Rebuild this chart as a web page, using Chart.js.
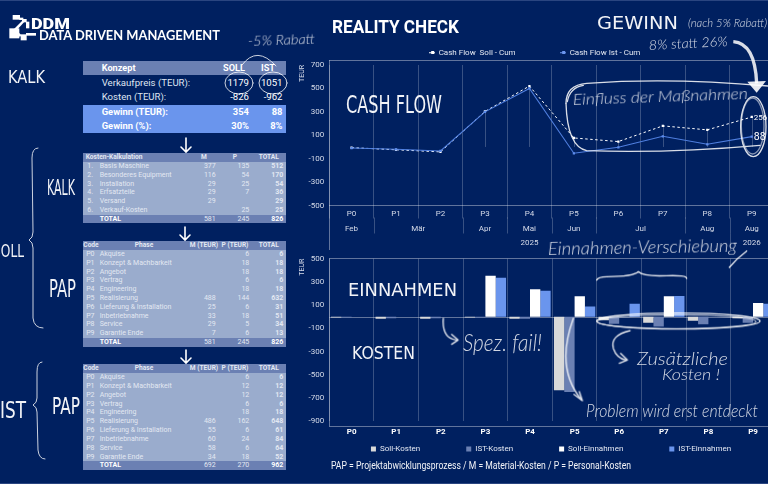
<!DOCTYPE html>
<html lang="de"><head><meta charset="utf-8">
<script src="https://cdn.jsdelivr.net/npm/chart.js@4"></script>
<style>
html,body{margin:0;padding:0;width:768px;height:484px;overflow:hidden;background:#002060;font-family:Roboto,sans-serif;}
canvas{position:absolute}
#c1wrap,#c2wrap{position:absolute}
#c1wrap{left:298px;top:40px;width:480px;height:210px}
#c2wrap{left:298px;top:240px;width:480px;height:244px}
#tables{position:absolute;left:0;top:0;width:768px;height:484px}
.r{position:absolute;left:83.3px;width:202.4px}
.c{position:absolute;white-space:nowrap;color:#e3e8f2;font-family:Roboto,sans-serif;top:0}
#ov{position:absolute;left:0;top:0;width:768px;height:484px;pointer-events:none}
#ov text{fill:#fff}
.hand{font-family:Lato,sans-serif;font-style:italic;font-weight:300}
.cap{font-family:"DejaVu Sans",sans-serif;font-weight:400}
</style></head><body>
<div id="tables"></div>
<div id="c1wrap"><canvas id="c1" width="480" height="210" style="width:480px;height:210px"></canvas></div>
<div id="c2wrap"><canvas id="c2" width="480" height="244" style="width:480px;height:244px"></canvas></div>
<svg id="ov" viewBox="0 0 768 484" xmlns="http://www.w3.org/2000/svg">
  <rect x="0" y="0" width="768" height="1" fill="#2a4580"/>
  <rect x="0" y="483" width="768" height="1" fill="#2a4580"/>
  <!-- logo, coordinates in 3x crop units -->
  <g transform="translate(0,5) scale(.33333)" fill="#fff">
    <rect x="38" y="30" width="22" height="14"/><rect x="58" y="38" width="12" height="7"/><rect x="66" y="42" width="14" height="10"/><rect x="78" y="50" width="10" height="20"/>
    <rect x="28" y="70" width="30" height="30"/><path d="M42,72 L66,48 L72,52 L50,76 Z"/>
    <rect x="62" y="88" width="18" height="18"/><rect x="78" y="84" width="30" height="8"/><path d="M55,82 L64,90 L60,96 L52,88 Z"/>
  </g>
  <g fill="#fff">
    <text x="31" y="28.5" font-family="Roboto" font-weight="900" font-size="15" textLength="39" lengthAdjust="spacingAndGlyphs">DDM</text>
    <text x="39" y="40" font-family="Lato" font-weight="700" font-size="12.5" textLength="181" lengthAdjust="spacingAndGlyphs">DATA DRIVEN MANAGEMENT</text>
    <text x="332" y="33" font-family="Roboto" font-weight="700" font-size="18.5" textLength="127" lengthAdjust="spacingAndGlyphs">REALITY CHECK</text>
    <text x="331" y="468.5" font-family="Roboto" font-size="10.5" textLength="300" lengthAdjust="spacingAndGlyphs" opacity=".95">PAP = Projektabwicklungsprozess / M = Material-Kosten / P = Personal-Kosten</text>
  </g>
  <!-- caps handwriting -->
  <g class="cap" opacity=".95">
    <text x="8" y="83" font-size="17" textLength="37" lengthAdjust="spacingAndGlyphs">KALK</text>
    <text x="47" y="195" font-size="21" textLength="28" lengthAdjust="spacingAndGlyphs">KALK</text>
    <text x="-7" y="257" font-size="17" textLength="31" lengthAdjust="spacingAndGlyphs">SOLL</text>
    <text x="49" y="297" font-size="24" textLength="27" lengthAdjust="spacingAndGlyphs">PAP</text>
    <text x="0" y="418" font-size="23" textLength="26" lengthAdjust="spacingAndGlyphs">IST</text>
    <text x="52" y="414" font-size="23" textLength="28" lengthAdjust="spacingAndGlyphs">PAP</text>
    <text x="346" y="113" font-size="24" textLength="96" lengthAdjust="spacingAndGlyphs">CASH FLOW</text>
    <text x="597" y="29" font-size="17" textLength="81" lengthAdjust="spacingAndGlyphs">GEWINN</text>
    <text x="348" y="296" font-size="17" textLength="109" lengthAdjust="spacingAndGlyphs">EINNAHMEN</text>
    <text x="352" y="359" font-size="17" textLength="63" lengthAdjust="spacingAndGlyphs">KOSTEN</text>
  </g>
  <!-- cursive handwriting -->
  <g class="hand" opacity=".82">
    <text transform="rotate(-2 248 46)" x="248" y="46" font-size="14" textLength="67" lengthAdjust="spacingAndGlyphs">-5% Rabatt</text>
    <text transform="rotate(-2 573 105)" x="573" y="105" font-size="16" textLength="175" lengthAdjust="spacingAndGlyphs">Einfluss der Maßnahmen</text>
    <text x="688" y="27" font-size="12" textLength="79" lengthAdjust="spacingAndGlyphs">(nach 5% Rabatt)</text>
    <text transform="rotate(-3 649 50)" x="649" y="50" font-size="13.5" textLength="79" lengthAdjust="spacingAndGlyphs">8% statt 26%</text>
    <text transform="rotate(-1 548 255)" x="548" y="255" font-size="18" textLength="189" lengthAdjust="spacingAndGlyphs">Einnahmen-Verschiebung</text>
    <text x="463" y="351" font-size="23" textLength="79" lengthAdjust="spacingAndGlyphs">Spez. fail!</text>
    <text x="637" y="365" font-size="18" textLength="91" lengthAdjust="spacingAndGlyphs">Zusätzliche</text>
    <text x="662" y="380" font-size="15" textLength="58" lengthAdjust="spacingAndGlyphs">Kosten !</text>
    <text x="586" y="417" font-size="17" textLength="172" lengthAdjust="spacingAndGlyphs">Problem wird erst entdeckt</text>
  </g>
  <!-- strokes, left -->
  <g fill="none" stroke="#fff" stroke-width="1" stroke-linecap="round" opacity=".8">
    <ellipse cx="239" cy="83" rx="14" ry="11"/>
    <ellipse cx="273" cy="83" rx="14" ry="11"/>
    <path d="M242,65 Q257,45 276,66"/>
    <path d="M38,148 Q32,148 32,158 L33,232 Q33,238 29,240 Q33,242 33,248 L33,318 Q34,328 43,328"/>
    <path d="M42,362 Q37,362 37,372 L37,398 Q37,403 33,405 Q37,407 37,412 L38,450 Q39,459 45,459"/>
  </g>
  <g fill="none" stroke="#fff" stroke-width="1.6" stroke-linecap="round">
    <path d="M186,138 L186,151 M181,147 L186,152 L191,147"/>
    <path d="M185,227 L185,239 M180,235 L185,240 L190,235"/>
    <path d="M186,350 L186,362 M181,358 L186,363 L191,358"/>
  </g>
  <!-- strokes, right (coordinates in 3x crop units) -->
  <g transform="translate(320,0) scale(.33333)" fill="none" stroke="#fff" stroke-width="4" stroke-linecap="round" opacity=".85">
    <path d="M738,310 Q738,255 800,250 Q1050,232 1344,258"/>
    <path d="M738,310 Q742,440 800,452 Q1050,460 1320,436"/>
    <path d="M742,305 Q750,262 790,256" />
    <ellipse cx="1300" cy="380" rx="38" ry="90"/>
    <ellipse cx="1298" cy="378" rx="34" ry="84" opacity=".6"/>
  </g>
  <g transform="translate(320,0) scale(.33333)">
    <path d="M1240,125 Q1305,130 1310,250" fill="none" stroke="#fff" stroke-width="10" opacity=".85"/>
    <path d="M1282,245 L1338,243 L1310,278 Z" fill="#fff" opacity=".9"/>
  </g>
  <g transform="translate(300,235) scale(.33333)" fill="none" stroke="#fff" stroke-width="4" stroke-linecap="round" stroke-linejoin="round" opacity=".9">
    <path d="M890,135 Q895,125 920,125 Q1000,125 1015,110 Q1030,125 1100,122 Q1160,120 1160,130"/>
    <path d="M1340,48 Q1310,70 1288,97"/>
    <ellipse cx="1135" cy="258" rx="245" ry="24"/>
    <ellipse cx="1130" cy="260" rx="238" ry="21" opacity=".7"/>
    <path d="M990,287 Q930,300 940,340 Q950,370 978,375"/>
    <path d="M962,355 L982,375 L958,385"/>
    <path d="M430,250 Q425,310 470,315"/>
    <path d="M455,298 L474,315 L455,328"/>
    <path d="M820,250 Q765,400 845,495"/>
    <path d="M822,478 L847,497 L838,470"/>
  </g>
</svg>
<script>
// ---------- chart data ----------
const phases = ['P0','P1','P2','P3','P4','P5','P6','P7','P8','P9'];
const cashSoll = [-6,-24,-42,303,520,77,46,180,146,256];
const cashIst  = [-9,-20,-34,300,500,-54,-3,91,23,88];
const yTicks1 = [700,500,300,100,-100,-300,-500];
const yTicks2 = [500,300,100,-100,-300,-500,-700,-900];
const sollKosten = [-6,-18,-18,-6,-18,-632,-31,-51,-34,-13];
const istKosten  = [-6,-12,-12,-6,-18,-648,-61,-84,-64,-52];
const sollEinnahmen = [0,0,0,354,236,177,0,177,0,118];
const istEinnahmen  = [0,0,0,336,224,89,112,178,0,112];
// months: label, first and last phase index
const months = [['Feb',0,0],['Mär',1,2],['Apr',3,3],['Mai',4,4],['Jun',5,5],['Jul',6,7],['Aug',8,8],['Aug',9,9]];
const years = [['2025',0,8],['2026',9,9]];
// ---------- table data ----------
const konzeptHead = ['Konzept','SOLL','IST'];
const konzeptRows = [['Verkaufpreis (TEUR):','1179','1051'],['Kosten (TEUR):','-826','-962'],['Gewinn (TEUR):','354','88'],['Gewinn (%):','30%','8%']];
const kalkHead = ['Kosten-Kalkulation','M','P','TOTAL'];
const kalkRows = [['1.','Basis Maschine','377','135','512'],['2.','Besonderes Equipment','116','54','170'],['3.','Installation','29','25','54'],['4.','Erfsatzteile','29','7','36'],['5.','Versand','29','','29'],['6.','Verkauf-Kosten','','25','25']];
const kalkTotal = ['TOTAL','581','245','826'];
const papHead = ['Code','Phase','M (TEUR)','P (TEUR)','TOTAL'];
const phaseNames = ['Akquise','Konzept & Machbarkeit','Angebot','Vertrag','Engineering','Realisierung','Lieferung & Installation','Inbetriebnahme','Service','Garantie Ende'];
const papSollM = ['','','','','','488','25','33','29','7'];
const papSollP = ['6','18','18','6','18','144','6','18','5','6'];
const papSollT = ['6','18','18','6','18','632','31','51','34','13'];
const papSollTotal = ['TOTAL','581','245','826'];
const papIstM = ['','','','','','486','55','60','58','34'];
const papIstP = ['6','12','12','6','18','162','6','24','6','18'];
const papIstT = ['6','12','12','6','18','648','61','84','64','52'];
const papIstTotal = ['TOTAL','692','270','962'];

// ---------- tables ----------
const host = document.getElementById('tables');
const SLATE='#6b80b3', PALE='#9aaccd', BLUE='#6a95ed';
function row(y,h,bg){const d=document.createElement('div');d.className='r';d.style.top=y+'px';d.style.height=h+'px';if(bg)d.style.background=bg;host.appendChild(d);return d;}
function cell(r,t,x,align,o={}){const s=document.createElement('span');s.className='c';s.textContent=t;
  const h=parseFloat(r.style.height);s.style.lineHeight=h+'px';s.style.fontSize=(o.size||7)+'px';s.style.fontWeight=o.bold?'700':'400';
  if(o.color)s.style.color=o.color;
  const l=x-83.3;
  if(align==='r'){s.style.right=(285.7-x)+'px';}
  else if(align==='c'){s.style.left=l+'px';s.style.transform='translateX(-50%)';}
  else s.style.left=l+'px';
  r.appendChild(s);}
// top table
{const r=row(60.7,14.6,SLATE);cell(r,konzeptHead[0],101.7,'l',{size:9.2,bold:1,color:'#fff'});cell(r,konzeptHead[1],245,'r',{size:9.2,bold:1,color:'#fff'});cell(r,konzeptHead[2],275,'r',{size:9.2,bold:1,color:'#fff'});
 const ys=[75.6,90.4];
 konzeptRows.slice(0,2).forEach((v,i)=>{const r=row(ys[i],14.6);cell(r,v[0],101.7,'l',{size:9.6,color:'#dfe5f1'});cell(r,v[1],249,'r',{size:9.6,color:'#fff'});cell(r,v[2],282.5,'r',{size:9.6,color:'#fff'});});
 const yb=[104.6,119];
 konzeptRows.slice(2).forEach((v,i)=>{const r=row(yb[i],14.4,BLUE);cell(r,v[0],101.7,'l',{size:9.4,bold:1,color:'#fff'});cell(r,v[1],249,'r',{size:9.4,bold:1,color:'#fff'});cell(r,v[2],282.5,'r',{size:9.4,bold:1,color:'#fff'});});
}
const COLS={m:215.7,p:249.3,t:283.3};
const HB={bold:1,size:6.6};
// Kosten-Kalkulation
{const y0=153.3,h=8.75;
 let r=row(y0,h,SLATE);cell(r,kalkHead[0],85.7,'l',HB);cell(r,kalkHead[1],204,'c',HB);cell(r,kalkHead[2],235,'c',HB);cell(r,kalkHead[3],268.7,'c',HB);
 kalkRows.forEach((v,i)=>{r=row(y0+h*(i+1),h,PALE);cell(r,v[0],93,'r');cell(r,v[1],99.7,'l');cell(r,v[2],COLS.m,'r');cell(r,v[3],COLS.p,'r');cell(r,v[4],COLS.t,'r',{bold:1});});
 r=row(y0+h*7,h,SLATE);cell(r,kalkTotal[0],99.7,'l',{bold:1,color:'#fff'});cell(r,kalkTotal[1],COLS.m,'r');cell(r,kalkTotal[2],COLS.p,'r');cell(r,kalkTotal[3],COLS.t,'r',{bold:1,color:'#fff'});
}
function pap(y0,h,M,P,T,tot){
 let r=row(y0,h,SLATE);cell(r,papHead[0],91,'c',HB);cell(r,papHead[1],144,'c',HB);cell(r,papHead[2],204,'c',HB);cell(r,papHead[3],235,'c',HB);cell(r,papHead[4],268.7,'c',HB);
 phases.forEach((c,i)=>{r=row(y0+h*(i+1),h,PALE);cell(r,c,94.5,'r');cell(r,phaseNames[i],99.7,'l');cell(r,M[i],COLS.m,'r');cell(r,P[i],COLS.p,'r');cell(r,T[i],COLS.t,'r',{bold:1});});
 r=row(y0+h*11,h,SLATE);cell(r,tot[0],99.7,'l',{bold:1,color:'#fff'});cell(r,tot[1],COLS.m,'r');cell(r,tot[2],COLS.p,'r');cell(r,tot[3],COLS.t,'r',{bold:1,color:'#fff'});
}
pap(241.3,8.78,papSollM,papSollP,papSollT,papSollTotal);
pap(364.3,8.83,papIstM,papIstP,papIstT,papIstTotal);

// ---------- charts ----------
const FONT='Roboto,sans-serif';
const GRID='rgba(255,255,255,.22)', AXIS='rgba(255,255,255,.38)', TICK='#d5dbe9';
Chart.defaults.font.family=FONT;
Chart.defaults.animation=false;
function lineMarker(color){const c=document.createElement('canvas');c.width=6;c.height=3;const g=c.getContext('2d');g.fillStyle=color;g.fillRect(0,1,6,1);g.fillRect(2,0,3,3);return c;}
function placeLegend(cx,cy){return {id:'placeLegend',
  beforeLayout(chart){const lg=chart.legend;if(lg&&!lg.__w){lg.__w=1;const f=lg.fit;lg.fit=function(){f.call(this);this.height=0;};}},
  afterLayout(chart){const lg=chart.legend;const p=lg.options.labels.padding,fs=lg.options.labels.font.size;
    const wrapL=chart.canvas.parentNode.offsetLeft,wrapT=chart.canvas.parentNode.offsetTop;
    lg.left=cx-wrapL-300;lg.right=cx-wrapL+300;lg.top=cy-wrapT-p-fs/2;lg.bottom=cy-wrapT+fs;lg.height=p*2+fs;lg.width=600;}};}
const frame1={id:'frame1',
  beforeDatasetsDraw(chart){const {ctx,scales:{x,y}}=chart;const Z=y.getPixelForValue(0),B=y.bottom,WT=chart.canvas.parentNode.offsetTop;
    ctx.save();ctx.lineWidth=1;
    const half=x.getPixelForValue(1)-x.getPixelForValue(0);
    const L=x.left;
    ctx.strokeStyle=AXIS;ctx.beginPath();ctx.moveTo(L,60.5-WT);ctx.lineTo(chart.width,60.5-WT);ctx.moveTo(Math.round(L)+.5,60-WT);ctx.lineTo(Math.round(L)+.5,chart.height);ctx.stroke();
    ctx.strokeStyle=GRID;ctx.beginPath();
    months.forEach(m=>{if(m[2]<phases.length-1){const px=Math.round(x.getPixelForValue(m[2])+half/2)+.5;ctx.moveTo(px,B+12);ctx.lineTo(px,B+28);}});
    years.forEach(m=>{if(m[2]<phases.length-1){const px=Math.round(x.getPixelForValue(m[2])+half/2)+.5;ctx.moveTo(px,B+28);ctx.lineTo(px,chart.height);}});
    phases.forEach((p,i)=>{const top=Math.max(cashSoll[i],cashIst[i]);if(top>0){const px=Math.round(x.getPixelForValue(i))+.5;ctx.moveTo(px,y.getPixelForValue(top));ctx.lineTo(px,Z);}});
    ctx.stroke();
    ctx.fillStyle=TICK;ctx.font='8px '+FONT;ctx.textAlign='center';ctx.textBaseline='middle';
    months.forEach(m=>ctx.fillText(m[0],(x.getPixelForValue(m[1])+x.getPixelForValue(m[2]))/2,228.7-WT));
    years.forEach(m=>ctx.fillText(m[0],(x.getPixelForValue(m[1])+x.getPixelForValue(m[2]))/2,243-WT));
    ctx.restore();},
  afterDatasetsDraw(chart){const {ctx}=chart;ctx.save();ctx.fillStyle='#fff';ctx.textBaseline='middle';ctx.textAlign='left';
    const a=chart.getDatasetMeta(0).data[9],b=chart.getDatasetMeta(1).data[9];
    ctx.font='8px '+FONT;ctx.fillText(String(cashSoll[9]),a.x+2,a.y+1);
    ctx.font='10.5px '+FONT;ctx.fillText(String(cashIst[9]),b.x+2,b.y+1);
    ctx.restore();}};
new Chart(document.getElementById('c1'),{type:'line',
  data:{labels:phases,datasets:[
    {label:'Cash Flow  Soll - Cum',data:cashSoll,order:1,borderColor:'#fff',backgroundColor:'#fff',borderWidth:1,borderDash:[2.5,2.5],pointStyle:'rect',pointRadius:1.6,pointBorderWidth:0,tension:0},
    {label:'Cash Flow Ist - Cum',data:cashIst,order:0,borderColor:'#4f7fdf',backgroundColor:'#5c8cec',borderWidth:1.1,pointStyle:'rect',pointRadius:1.6,pointBorderWidth:0,tension:0}]},
  options:{responsive:false,devicePixelRatio:1,animation:false,
    layout:{padding:{left:0,right:2.7,top:25,bottom:0}},
    plugins:{legend:{display:true,position:'top',labels:{color:'#e3e8f2',font:{size:8},padding:45,boxWidth:5,boxHeight:3,usePointStyle:true,
        generateLabels(chart){return chart.data.datasets.map((d,i)=>({text:d.label,fontColor:'#e3e8f2',pointStyle:lineMarker(i?'#6b96f0':'#fff'),datasetIndex:i,lineWidth:0,strokeStyle:'transparent',fillStyle:'transparent'}));}}},tooltip:{enabled:false}},
    scales:{
      x:{type:'category',offset:true,afterFit(s){s.height=44.5;},
        grid:{offset:true,color:GRID,lineWidth:1,tickLength:13,drawTicks:true,drawOnChartArea:true},border:{display:false},
        ticks:{color:TICK,font:{size:8},padding:-9,maxRotation:0,autoSkip:false}},
      y:{min:-500,max:700,afterBuildTicks(s){s.ticks=yTicks1.map(v=>({value:v}));},afterFit(s){s.width=31.3;},
        grid:{color:c=>(c.tick&&(c.tick.value===0||c.tick.value===-500))?AXIS:'transparent',drawTicks:false,lineWidth:1},border:{display:false},
        title:{display:true,text:'TEUR',align:'end',color:TICK,font:{size:7},padding:{top:0,bottom:0}},
        ticks:{color:TICK,font:{size:8},padding:5,autoSkip:false}}}},
  plugins:[frame1,placeLegend(535,52.7)]});

const frame2={id:'frame2',
  beforeDatasetsDraw(chart){const {ctx,scales:{x,y}}=chart;ctx.save();ctx.lineWidth=1;ctx.strokeStyle=AXIS;ctx.beginPath();
    const L=Math.round(x.left)+.5,Bb=Math.round(y.bottom+4.4)+.5;
    ctx.moveTo(L,y.top);ctx.lineTo(L,Bb);ctx.moveTo(x.left,Bb);ctx.lineTo(chart.width,Bb);ctx.stroke();
    const Z=Math.round(y.getPixelForValue(0))+.5;ctx.beginPath();ctx.moveTo(x.left,Z);ctx.lineTo(chart.width,Z);ctx.stroke();
    ctx.restore();}};
new Chart(document.getElementById('c2'),{type:'bar',
  data:{labels:phases,datasets:[
    {label:'Soll-Kosten',data:sollKosten,backgroundColor:'#d9d9d9'},
    {label:'IST-Kosten',data:istKosten,backgroundColor:'#6b80b3'},
    {label:'Soll-Einnahmen',data:sollEinnahmen,backgroundColor:'#ffffff'},
    {label:'IST-Einnahmen',data:istEinnahmen,backgroundColor:'#6a95ed'}]},
  options:{responsive:false,devicePixelRatio:1,animation:false,
    datasets:{bar:{categoryPercentage:.926,barPercentage:1,borderWidth:0}},
    layout:{padding:{left:0,right:2.7,top:18.7,bottom:0}},
    plugins:{legend:{display:true,position:'top',labels:{color:'#e3e8f2',font:{size:8},padding:46,boxWidth:5,boxHeight:5,usePointStyle:true,pointStyle:'rect'}},tooltip:{enabled:false}},
    scales:{
      x:{afterFit(s){s.height=62.7;},grid:{offset:true,color:GRID,lineWidth:1,drawTicks:false},border:{display:false},
        ticks:{color:'#fff',font:{size:8,weight:'bold'},padding:6,maxRotation:0,autoSkip:false}},
      y:{min:-900,max:500,afterBuildTicks(s){s.ticks=yTicks2.map(v=>({value:v}));},afterFit(s){s.width=31.3;},
        grid:{color:c=>(c.tick&&(c.tick.value===500))?AXIS:'transparent',drawTicks:false,lineWidth:1},border:{display:false},
        title:{display:true,text:'TEUR',align:'end',color:TICK,font:{size:7},padding:{top:0,bottom:0}},
        ticks:{color:TICK,font:{size:8},padding:5,autoSkip:false}}}},
  plugins:[frame2,placeLegend(551,449)]});
</script>
</body></html>
